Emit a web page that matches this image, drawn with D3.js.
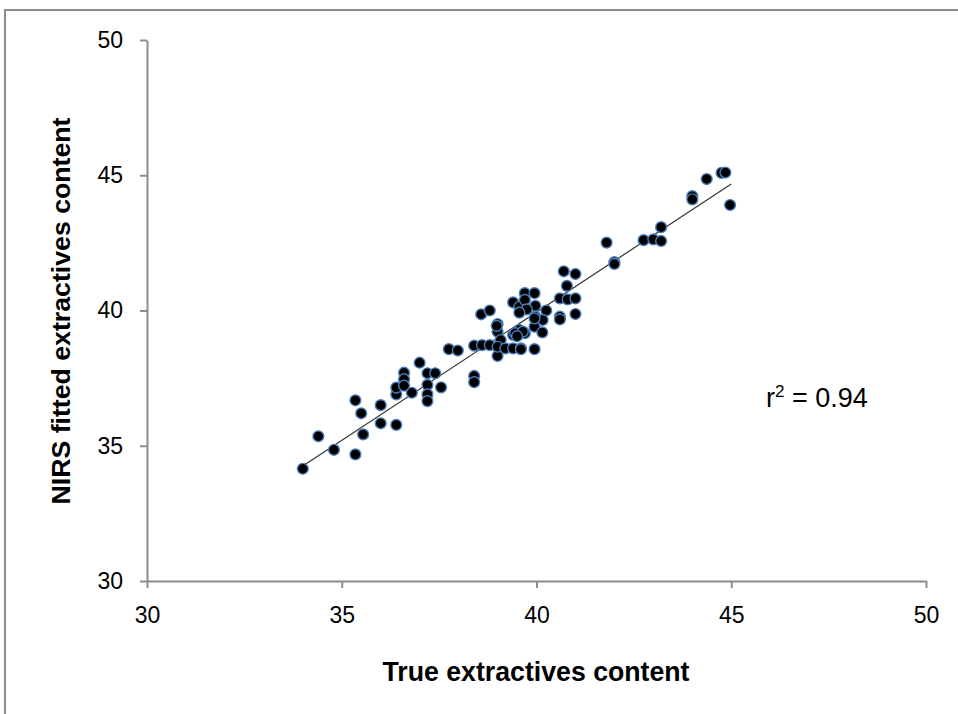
<!DOCTYPE html>
<html><head><meta charset="utf-8">
<script src="https://cdn.jsdelivr.net/npm/d3@7"></script>
<style>body{margin:0;background:#fff;} svg{display:block;}</style>
</head><body>
<svg id="chart" width="958" height="714"></svg>
<script>
// Data (true, fitted)
const trueVals = [34.0,34.4,34.8,35.35,35.35,35.5,35.55,36.0,36.0,36.4,36.4,36.4,36.6,36.6,36.6,36.8,37.0,37.2,37.4,37.2,37.2,37.2,37.55,37.75,37.98,38.4,38.4,38.4,38.6,38.8,38.58,38.8,39.0,39.0,39.08,39.0,39.0,39.2,39.4,39.6,39.4,39.56,39.7,39.4,39.56,39.7,39.95,39.7,39.97,39.75,39.56,39.97,40.25,40.16,39.95,40.15,39.45,39.6,39.95,40.78,40.6,40.8,41.0,40.6,41.0,40.7,41.0,41.8,42.0,42.0,42.75,43.0,43.2,43.2,44.0,44.0,44.37,44.75,44.85,44.97,40.6,38.98,39.65,39.95,39.5];
const fittedVals = [34.15,35.35,34.85,34.68,36.68,36.2,35.42,36.5,35.83,35.77,36.9,37.15,37.7,37.46,37.22,36.96,38.07,37.68,37.68,37.25,36.9,36.65,37.16,38.57,38.52,37.58,37.35,38.7,38.72,38.72,39.86,40.0,39.5,39.22,38.91,38.32,38.66,38.6,38.6,38.6,39.1,39.28,39.16,40.3,40.14,40.64,40.64,40.39,40.17,40.04,39.92,39.77,40.0,39.65,39.4,39.19,39.16,38.57,38.57,40.91,40.45,40.41,40.45,39.77,39.87,41.45,41.35,42.51,41.79,41.72,42.6,42.63,42.57,43.08,44.23,44.11,44.86,45.09,45.1,43.9,39.67,39.43,39.22,39.71,39.05];
const xTicks = [30,35,40,45,50];
const yTicks = [30,35,40,45,50];
const fitLine = [[34.0,34.25],[45.0,44.68]];
const xTitle = "True extractives content";
const yTitle = "NIRS fitted extractives content";
const annotation = "0.94";

const svg = d3.select("#chart");
// outer frame
svg.append("rect").attr("x",5).attr("y",10).attr("width",980).attr("height",740)
  .attr("fill","none").attr("stroke","#8c8c8c").attr("stroke-width",2);

const x = d3.scaleLinear().domain([30,50]).range([147,926]);
const y = d3.scaleLinear().domain([30,50]).range([581,40]);
const axisColor = "#8c8c8c";
const font = "'Liberation Sans', Arial, sans-serif";

const gx = svg.append("g").attr("transform","translate(0,581)")
  .call(d3.axisBottom(x).tickValues(xTicks).tickSize(7).tickPadding(19).tickSizeOuter(0));
const gy = svg.append("g").attr("transform","translate(147,0)")
  .call(d3.axisLeft(y).tickValues(yTicks).tickSize(7).tickPadding(17).tickSizeOuter(0));
[gx,gy].forEach(g=>{
  g.select(".domain").attr("stroke",axisColor).attr("stroke-width",2);
  g.selectAll(".tick line").attr("stroke",axisColor).attr("stroke-width",2);
  g.selectAll(".tick text").attr("fill","#000").style("font-family",font).style("font-size","23px");
});

// regression line
svg.append("line")
  .attr("x1",x(fitLine[0][0])).attr("y1",y(fitLine[0][1]))
  .attr("x2",x(fitLine[1][0])).attr("y2",y(fitLine[1][1]))
  .attr("stroke","#333").attr("stroke-width",1.2);

// points
const pts = trueVals.map((v,i)=>({x:v,y:fittedVals[i]}));
svg.append("g").selectAll("circle").data(pts).join("circle")
  .attr("cx",d=>x(d.x)).attr("cy",d=>y(d.y)).attr("r",5.4)
  .attr("fill","#000").attr("stroke","#4a7ebb").attr("stroke-width",1.4);

// titles
svg.append("text").attr("x",536).attr("y",681).attr("text-anchor","middle")
  .attr("textLength",307).attr("lengthAdjust","spacingAndGlyphs")
  .style("font-family",font).style("font-weight","bold").style("font-size","27px")
  .text(xTitle);
svg.append("text").attr("transform","translate(70,311) rotate(-90)").attr("text-anchor","middle")
  .attr("textLength",387).attr("lengthAdjust","spacingAndGlyphs")
  .style("font-family",font).style("font-weight","bold").style("font-size","25px")
  .text(yTitle);

// r² annotation
const ann = svg.append("text").attr("x",766).attr("y",407)
  .style("font-family",font).style("font-size","27px").attr("fill","#000");
ann.append("tspan").text("r");
ann.append("tspan").attr("dy",-10).style("font-size","17px").text("2");
ann.append("tspan").attr("dy",10).text(" = " + annotation);
</script>
</body></html>
